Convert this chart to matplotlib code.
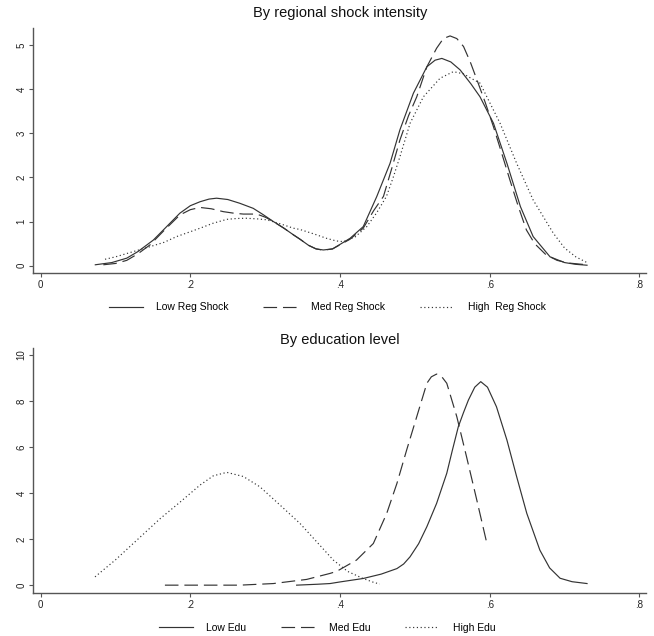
import matplotlib
matplotlib.use("Agg")
import matplotlib.pyplot as plt

plt.rcParams['font.family'] = ['Liberation Sans', 'DejaVu Sans']

# --- top panel: regional shock intensity (densities)
low_reg_x = [0.073, 0.095, 0.115, 0.13, 0.1505, 0.168, 0.186, 0.20, 0.213, 0.225, 0.235, 0.25,
             0.266, 0.284, 0.297, 0.311, 0.325, 0.3376, 0.3465, 0.358, 0.368, 0.3777, 0.39,
             0.4134, 0.431, 0.449, 0.4668, 0.48, 0.498, 0.516, 0.527, 0.536, 0.548, 0.5604,
             0.575, 0.587, 0.605, 0.623, 0.641, 0.658, 0.6806, 0.70, 0.715, 0.73]
low_reg_y = [0.02, 0.07, 0.17, 0.32, 0.58, 0.88, 1.19, 1.36, 1.45, 1.51, 1.53, 1.5,
             1.415, 1.30, 1.16, 1.0, 0.85, 0.70, 0.60, 0.46, 0.38, 0.356, 0.38,
             0.62, 0.885, 1.565, 2.32, 3.08, 3.91, 4.51, 4.66, 4.70, 4.62, 4.44,
             4.12, 3.83, 3.23, 2.32, 1.34, 0.66, 0.20, 0.07, 0.03, 0.01]

med_reg_x = [0.0837, 0.10, 0.115, 0.13, 0.146, 0.165, 0.186, 0.20, 0.213, 0.228, 0.244, 0.258,
             0.2708, 0.2887, 0.30, 0.311, 0.325, 0.3376, 0.3465, 0.358, 0.368, 0.3777, 0.39,
             0.4134, 0.431, 0.445, 0.458, 0.469, 0.48, 0.4915, 0.5025, 0.516, 0.529, 0.538,
             0.547, 0.556, 0.565, 0.574, 0.583, 0.594, 0.605, 0.616, 0.627, 0.638, 0.649,
             0.66, 0.675, 0.69, 0.705, 0.73]
med_reg_y = [0.02, 0.05, 0.12, 0.27, 0.47, 0.8, 1.15, 1.27, 1.32, 1.29, 1.225, 1.19,
             1.17, 1.17, 1.1, 1.0, 0.85, 0.70, 0.6, 0.46, 0.38, 0.35, 0.38,
             0.6, 0.85, 1.25, 1.57, 2.2, 2.85, 3.4, 3.83, 4.51, 4.93, 5.15,
             5.21, 5.15, 4.97, 4.62, 4.21, 3.7, 3.15, 2.55, 1.94, 1.35, 0.81,
             0.5, 0.25, 0.12, 0.06, 0.02]

high_reg_x = [0.086, 0.10, 0.12, 0.146, 0.165, 0.1817, 0.20, 0.213, 0.23, 0.2486, 0.262, 0.275,
              0.29, 0.302, 0.32, 0.3376, 0.3465, 0.365, 0.382, 0.395, 0.4044, 0.42, 0.4357,
              0.449, 0.462, 0.471, 0.48, 0.4936, 0.5114, 0.5336, 0.5514, 0.565, 0.575, 0.587,
              0.6138, 0.636, 0.658, 0.685, 0.70, 0.715, 0.73]
high_reg_y = [0.145, 0.2, 0.3, 0.43, 0.53, 0.66, 0.77, 0.85, 0.96, 1.05, 1.07, 1.075,
              1.06, 1.04, 0.95, 0.85, 0.82, 0.72, 0.62, 0.56, 0.545, 0.65, 0.885,
              1.2, 1.57, 2.0, 2.47, 3.23, 3.83, 4.25, 4.40, 4.35, 4.25, 4.14,
              3.23, 2.32, 1.49, 0.735, 0.4, 0.2, 0.07]

# --- bottom panel: education level
low_edu_x = [0.342, 0.37, 0.3867, 0.40, 0.431, 0.455, 0.476, 0.485, 0.4935, 0.505, 0.516, 0.529,
             0.5426, 0.55, 0.558, 0.565, 0.5715, 0.58, 0.588, 0.597, 0.609, 0.623, 0.636,
             0.6495, 0.667, 0.68, 0.694, 0.71, 0.73]
low_edu_y = [0.0, 0.04, 0.07, 0.14, 0.29, 0.48, 0.72, 0.92, 1.23, 1.8, 2.54, 3.55,
             4.86, 5.85, 6.88, 7.5, 8.04, 8.6, 8.84, 8.6, 7.75, 6.30, 4.71,
             3.12, 1.52, 0.75, 0.3, 0.15, 0.07]

med_edu_x = [0.166, 0.266, 0.311, 0.3555, 0.3866, 0.3956, 0.422, 0.4445, 0.4624, 0.476, 0.489,
             0.5025, 0.516, 0.522, 0.529, 0.536, 0.5426, 0.556, 0.569, 0.5827, 0.596]
med_edu_y = [0.0, 0.0, 0.07, 0.25, 0.51, 0.6, 1.09, 1.81, 3.12, 4.42, 5.87,
             7.32, 8.77, 9.05, 9.17, 9.05, 8.77, 7.32, 5.58, 3.70, 1.84]

high_edu_x = [0.0726, 0.10, 0.13, 0.16, 0.186, 0.213, 0.2307, 0.2486, 0.2708, 0.293, 0.3198,
              0.3465, 0.3689, 0.391, 0.41, 0.43, 0.445, 0.453]
high_edu_y = [0.36, 1.1, 2.0, 2.9, 3.6, 4.35, 4.75, 4.90, 4.72, 4.27, 3.48,
              2.68, 1.88, 1.09, 0.6, 0.3, 0.12, 0.05]

x_ticks = [0, 0.2, 0.4, 0.6, 0.8]
x_labels = ['0', '.2', '.4', '.6', '.8']

line_col = '#333333'
spine_col = '#555555'
solid = '-'
dashed = (0, (11.5, 5))
dotted = (0, (1, 2.2))


def style_axes(ax, yticks):
    for s in ['top', 'right']:
        ax.spines[s].set_visible(False)
    for s in ['left', 'bottom']:
        ax.spines[s].set_color(spine_col)
        ax.spines[s].set_linewidth(1.0)
    ax.set_xticks(x_ticks)
    ax.set_xticklabels(x_labels)
    ax.set_yticks(yticks)
    ax.set_yticklabels([str(v) for v in yticks], rotation=90, va='center')
    ax.tick_params(length=3, width=0.8, color=spine_col, labelsize=7, pad=2,
                   labelcolor='#222222')
    ax.set_xlim(-0.0096, 0.809)


def draw(ax, xs, ys, ls, label):
    ax.plot(xs, ys, color=line_col, lw=0.85, linestyle=ls, label=label,
            solid_joinstyle='round', dash_joinstyle='round')


fig = plt.figure(figsize=(6.54, 6.36), dpi=100)

ax1 = fig.add_axes([0.0512, 0.5712, 0.9368, 0.3848])
draw(ax1, low_reg_x, low_reg_y, solid, 'Low Reg Shock')
draw(ax1, med_reg_x, med_reg_y, dashed, 'Med Reg Shock')
draw(ax1, high_reg_x, high_reg_y, dotted, 'High  Reg Shock')
style_axes(ax1, [0, 1, 2, 3, 4, 5])
ax1.set_ylim(-0.16, 5.39)
ax1.set_title('By regional shock intensity', fontsize=10.5, pad=8, color='#111111')
ax1.legend(loc='center', bbox_to_anchor=(0.5, 0.517), bbox_transform=fig.transFigure,
           ncol=3, frameon=False, fontsize=7.5, handlelength=3.3, handletextpad=1.3,
           columnspacing=3.3)

ax2 = fig.add_axes([0.0512, 0.068, 0.9368, 0.3844])
draw(ax2, low_edu_x, low_edu_y, solid, 'Low Edu')
draw(ax2, med_edu_x, med_edu_y, dashed, 'Med Edu')
draw(ax2, high_edu_x, high_edu_y, dotted, 'High Edu')
style_axes(ax2, [0, 2, 4, 6, 8, 10])
ax2.set_ylim(-0.33, 10.29)
ax2.set_title('By education level', fontsize=10.5, pad=3, color='#111111')
ax2.legend(loc='center', bbox_to_anchor=(0.5, 0.0126), bbox_transform=fig.transFigure,
           ncol=3, frameon=False, fontsize=7.5, handlelength=3.3, handletextpad=1.3,
           columnspacing=3.3)

fig.savefig('out.png', dpi=100)
